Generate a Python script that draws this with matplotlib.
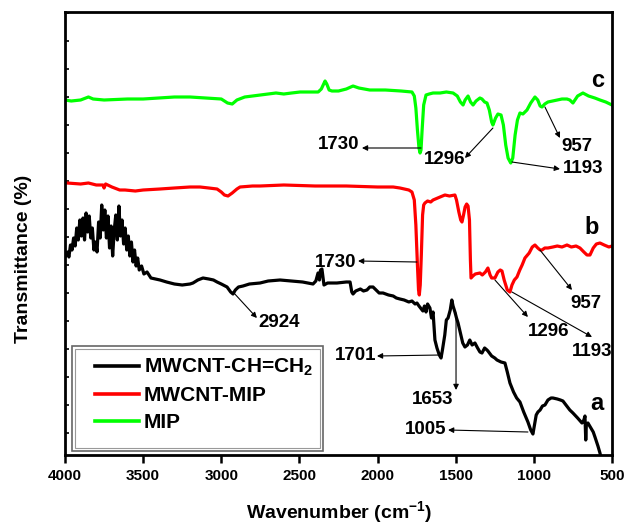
import numpy as np
import matplotlib
matplotlib.use('Agg')
import matplotlib.pyplot as plt
from matplotlib.patches import Rectangle

plt.rcParams['font.family'] = ['Liberation Sans', 'DejaVu Sans']
plt.rcParams['font.weight'] = 'bold'
plt.rcParams['mathtext.fontset'] = 'custom'
plt.rcParams['mathtext.rm'] = 'Liberation Sans:bold'
plt.rcParams['mathtext.bf'] = 'Liberation Sans:bold'
plt.rcParams['mathtext.it'] = 'Liberation Sans:bold'

# ---------------- data (wavenumber, offset transmittance, arbitrary units) -------------
wn_a = [4000, 3995, 3985, 3975, 3965, 3955, 3945, 3935, 3925, 3915, 3905, 3895, 3885, 3875,
        3865, 3855, 3845, 3835, 3825, 3815, 3805, 3795, 3785, 3775, 3765, 3755, 3745, 3735,
        3725, 3715, 3705, 3695, 3685, 3675, 3665, 3655, 3645, 3635, 3625, 3615, 3605, 3595,
        3585, 3575, 3565, 3555, 3545, 3535, 3525, 3510, 3495, 3475, 3450, 3420, 3392, 3350,
        3300, 3250, 3200, 3181, 3150, 3117, 3080, 3050, 3027, 3000, 2963, 2940, 2925, 2910,
        2890, 2861, 2820, 2752, 2700, 2624, 2550, 2480, 2413, 2395, 2381, 2372, 2365, 2356,
        2350, 2343, 2320, 2260, 2200, 2176, 2165, 2157, 2140, 2110, 2090, 2068, 2050, 2029,
        2010, 1990, 1965, 1930, 1900, 1880, 1857, 1830, 1800, 1780, 1760, 1748, 1735, 1720,
        1710, 1700, 1690, 1680, 1665, 1655, 1645, 1633, 1620, 1605, 1594, 1585, 1570, 1560,
        1549, 1535, 1525, 1517, 1505, 1495, 1485, 1470, 1455, 1441, 1425, 1410, 1395, 1377,
        1360, 1345, 1332, 1315, 1300, 1294, 1270, 1250, 1236, 1210, 1185, 1170, 1153, 1130,
        1110, 1089, 1065, 1038, 1020, 1006, 995, 985, 974, 960, 945, 929, 910, 890, 878, 850,
        830, 814, 790, 770, 750, 720, 692, 680, 673, 668, 664, 654, 635, 620, 609, 590, 577,
        560, 540]
t_a = [198, 199, 203, 198, 210, 205, 217, 209, 227, 215, 235, 219, 237, 215,
       242, 223, 239, 217, 227, 205, 213, 203, 233, 217, 250, 225, 245, 217,
       239, 207, 229, 199, 225, 240, 215, 249, 219, 235, 211, 227, 205, 219,
       199, 213, 193, 205, 189, 197, 185, 189, 181, 183, 177, 176, 175, 173,
       171, 170, 171, 172, 175, 177, 176, 175, 173, 171, 168, 163, 161, 165,
       168, 169, 171, 172, 174, 175, 174, 173, 171, 174, 182, 175, 185, 186,
       179, 170, 172, 172, 173, 173, 163, 161, 164, 166, 164, 165, 168, 168,
       165, 162, 162, 160, 159, 157, 156, 155, 153, 154, 151, 152, 149, 146,
       144, 149, 143, 151, 147, 137, 143, 115, 107, 100, 97, 105, 120, 135,
       137, 145, 155, 149, 143, 137, 132, 122, 112, 108, 110, 115, 110, 112,
       107, 103, 102, 107, 105, 104, 99, 97, 95, 93, 92, 83, 72, 63,
       57, 53, 43, 33, 25, 21, 31, 40, 43, 45, 49, 50, 55, 57, 57, 56,
       55, 54, 49, 45, 42, 37, 32, 35, 39, 15, 31, 32, 27, 23, 18, 9, 2,
       -10, -23]

wn_b = [4000, 3987, 3900, 3850, 3800, 3757, 3750, 3740, 3700, 3650, 3616, 3550, 3500, 3392,
        3300, 3200, 3136, 3080, 3027, 3000, 2980, 2957, 2930, 2900, 2880, 2800, 2752, 2600,
        2400, 2200, 2000, 1900, 1857, 1800, 1780, 1765, 1755, 1745, 1738, 1733, 1727, 1720,
        1712, 1705, 1697, 1680, 1660, 1645, 1630, 1600, 1569, 1540, 1505, 1495, 1480, 1468,
        1460, 1450, 1440, 1430, 1421, 1412, 1406, 1402, 1390, 1375, 1345, 1330, 1310, 1294,
        1280, 1270, 1249, 1230, 1215, 1204, 1190, 1170, 1153, 1140, 1125, 1108, 1090, 1075,
        1057, 1030, 1010, 993, 975, 960, 948, 930, 910, 878, 850, 820, 788, 760, 730, 705,
        680, 660, 641, 620, 600, 577, 550, 520, 500]
t_b = [272, 272, 271, 272, 270, 270, 267, 271, 268, 265, 265, 264, 265, 266,
       267, 268, 268, 267, 266, 263, 260, 259, 262, 266, 268, 269, 269, 270,
       269, 269, 268, 268, 267, 265, 263, 255, 230, 190, 165, 160, 170, 200,
       240, 250, 252, 254, 253, 255, 256, 258, 260, 259, 260, 255, 243, 235,
       233, 240, 248, 251, 249, 235, 195, 177, 179, 181, 182, 180, 183, 187,
       180, 177, 177, 183, 185, 184, 175, 165, 163, 170, 175, 178, 185, 190,
       197, 202, 208, 210, 207, 205, 205, 207, 207, 208, 209, 208, 210, 208, 209, 207,
       203, 200, 200, 207, 211, 212, 210, 208, 209]

wn_c = [4000, 3960, 3900, 3850, 3820, 3750, 3600, 3500, 3400, 3300, 3200, 3100, 3000, 2960,
        2930, 2900, 2850, 2750, 2650, 2600, 2550, 2496, 2420, 2380, 2360, 2345, 2336, 2325,
        2310, 2292, 2250, 2200, 2157, 2120, 2050, 1950, 1850, 1780, 1765, 1755, 1745, 1735,
        1728, 1722, 1715, 1705, 1690, 1670, 1645, 1600, 1560, 1517, 1490, 1470, 1453, 1440,
        1421, 1405, 1389, 1370, 1345, 1332, 1315, 1300, 1285, 1270, 1262, 1245, 1230, 1210,
        1195, 1180, 1165, 1148, 1135, 1120, 1105, 1089, 1070, 1044, 1020, 993, 975, 960,
        948, 930, 910, 880, 850, 820, 788, 770, 750, 720, 686, 650, 610, 577, 540, 500]
t_c = [355, 354, 355, 358, 356, 355, 356, 356, 357, 358, 358, 357, 356, 352,
       351, 355, 358, 360, 362, 361, 362, 363, 363, 363, 366, 371, 374, 371,
       365, 364, 364, 366, 369, 367, 365, 365, 364, 363, 359, 347, 325, 307,
       302, 305, 325, 350, 360, 361, 362, 362, 363, 362, 359, 353, 350, 355,
       359, 353, 350, 354, 357, 356, 353, 352, 345, 333, 330, 337, 341, 340,
       330, 310, 297, 292, 297, 320, 335, 342, 341, 345, 352, 358, 355, 349,
       348, 351, 353, 354, 355, 356, 356, 355, 352, 359, 362, 359, 357, 355, 353, 350]

series_labels = [r'MWCNT-CH=CH$_\mathbf{2}$', 'MWCNT-MIP', 'MIP']
series_colors = ['#000000', '#ff0000', '#00ff00']

xticks = [4000, 3500, 3000, 2500, 2000, 1500, 1000, 500]

# peak labels: text, text position, arrow tail (at band), arrow head (near text)
peak_text = ['1730', '1296', '1193', '957',
             '1730', '1296', '1193', '957',
             '2924', '1701', '1653', '1005']
peak_text_xy = [(2247, 311), (1569, 296), (686, 287), (724, 309),
                (2266, 193), (903, 123), (628, 103), (666, 152),
                (2631, 133), (2138, 99), (1645, 55), (1690, 26)]
peak_tail = [(1722, 307), (1262, 327), (1140, 293), (929, 348),
             (1748, 193), (1249, 175), (1140, 163), (961, 205),
             (2925, 163), (1594, 100), (1498, 142), (1038, 23)]
peak_head = [(2100, 307), (1441, 297), (833, 286), (833, 317),
             (2125, 194), (1038, 138), (628, 118), (756, 165),
             (2772, 137), (2004, 99), (1498, 65), (1549, 25)]

curve_letters = ['c', 'b', 'a']
curve_letter_xy = [(590, 375), (628, 228), (596, 52)]

# ---------------- figure -------------
W, H = 627, 525
fig = plt.figure(figsize=(6.27, 5.25), dpi=100)
ax_l, ax_r, ax_t, ax_b = 65, 612, 12, 455
ax = fig.add_axes([ax_l/W, 1-ax_b/H, (ax_r-ax_l)/W, (ax_b-ax_t)/H])

def axfrac(px, row):
    return ((px-ax_l)/(ax_r-ax_l), (ax_b-row)/(ax_b-ax_t))

for wn, t, lab, col in zip([wn_a, wn_b, wn_c], [t_a, t_b, t_c], series_labels, series_colors):
    ax.plot(wn, t, color=col, lw=2.3, label=lab, solid_joinstyle='round')

ax.set_xlim(4000, 500)
ax.set_ylim(0, 443)
ax.set_xticks(xticks)
ax.set_xticklabels([str(v) for v in xticks], fontsize=11, fontweight='bold')
ax.tick_params(axis='x', direction='out', length=6, width=1.8, pad=4)
ax.set_yticks(np.arange(22, 443, 28))
ax.set_yticklabels([])
ax.tick_params(axis='y', direction='in', length=3, width=1.2)
for s in ax.spines.values():
    s.set_linewidth(2.0)

for txt, xy in zip(peak_text, peak_text_xy):
    ax.text(xy[0], xy[1], txt, fontsize=13.5, fontweight='bold', ha='center', va='center')
for tail, head in zip(peak_tail, peak_head):
    ax.annotate('', xy=head, xytext=tail,
                arrowprops=dict(arrowstyle='-|>', lw=0.8, color='black',
                                mutation_scale=8, shrinkA=0, shrinkB=0))
for l, xy in zip(curve_letters, curve_letter_xy):
    ax.text(xy[0], xy[1], l, fontsize=17, fontweight='bold', ha='center', va='center')

# legend box (double grey frame) and entries
x0, y0 = axfrac(72, 451)
x1, y1 = axfrac(323, 346)
ax.add_patch(Rectangle((x0, y0), x1-x0, y1-y0, transform=ax.transAxes, fill=True,
                       facecolor='white', edgecolor='#666666', lw=1.2, zorder=4))
xi0, yi0 = axfrac(75, 448)
xi1, yi1 = axfrac(320, 349)
ax.add_patch(Rectangle((xi0, yi0), xi1-xi0, yi1-yi0, transform=ax.transAxes, fill=False,
                       edgecolor='#999999', lw=0.8, zorder=4))
leg = ax.legend(loc='upper left', bbox_to_anchor=axfrac(95, 357),
                fontsize=15, handlelength=2.1, handletextpad=0.25,
                labelspacing=0.38, borderpad=0, frameon=False, borderaxespad=0)
leg.set_zorder(5)
for line in leg.get_lines():
    line.set_linewidth(2.6)

fig.text(339/W, 1-512/H, 'Wavenumber (cm$^{\\mathbf{-1}}$)', fontsize=14,
         fontweight='bold', ha='center', va='center')
fig.text(24/W, 1-259/H, 'Transmittance (%)', fontsize=14, fontweight='bold',
         ha='center', va='center', rotation=90)

fig.savefig('out.png', dpi=100)
